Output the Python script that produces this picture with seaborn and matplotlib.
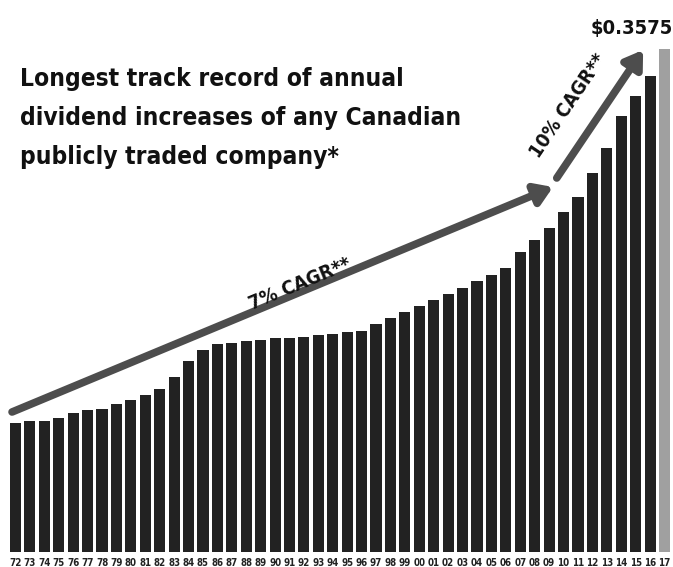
import matplotlib.pyplot as plt
import seaborn as sns

years = ["72", "73", "74", "75", "76", "77", "78", "79", "80", "81", "82", "83",
         "84", "85", "86", "87", "88", "89", "90", "91", "92", "93", "94", "95",
         "96", "97", "98", "99", "00", "01", "02", "03", "04", "05", "06", "07",
         "08", "09", "10", "11", "12", "13", "14", "15", "16", "17"]
dividends = [0.0917, 0.0933, 0.0933, 0.0953, 0.0990, 0.1009, 0.1017, 0.1054,
             0.1081, 0.1118, 0.1159, 0.1244, 0.1360, 0.1436, 0.1478, 0.1486,
             0.1502, 0.1507, 0.1523, 0.1523, 0.1530, 0.1542, 0.1552, 0.1566,
             0.1573, 0.1623, 0.1665, 0.1706, 0.1751, 0.1793, 0.1836, 0.1878,
             0.1928, 0.1971, 0.2021, 0.2134, 0.2220, 0.2305, 0.2419, 0.2523,
             0.2696, 0.2874, 0.3101, 0.3243, 0.3385, 0.3575]
bar_colors = ["#222222"] * (len(years) - 1) + ["#a0a0a0"]
last_label = "$0.3575"

sns.set_style("white")
plt.rcParams["font.family"] = ["DejaVu Sans"]
FONT = dict(family="DejaVu Sans", stretch="condensed", weight="bold")

fig = plt.figure(figsize=(6.73, 5.67), dpi=100)
ax = fig.add_axes([0, 15 / 567, 1, 552 / 567])

sns.barplot(x=years, y=dividends, hue=years, palette=bar_colors, legend=False,
            width=0.77, saturation=1, linewidth=0, edgecolor="none", ax=ax)

ax.set_xlim(-1.075, 45.59)
ax.set_ylim(0, 0.3923)
ax.set_xlabel("")
ax.set_ylabel("")
ax.set_yticks([])
ax.tick_params(axis="x", length=0, pad=4)
for lab in ax.get_xticklabels():
    lab.set_fontsize(7)
    lab.set_fontweight("bold")
    lab.set_fontstretch("condensed")
    lab.set_color("#222222")
sns.despine(ax=ax, left=True, bottom=True)

# CAGR arrows
arrow_kw = dict(arrowstyle="-|>,head_length=1.0,head_width=0.65", color="#4d4d4d",
                lw=5.5, shrinkA=0, shrinkB=0)
ax.annotate("", xy=(37.27, 0.2594), xytext=(-0.24, 0.0995), arrowprops=arrow_kw)
ax.annotate("", xy=(43.52, 0.3568), xytext=(37.53, 0.2658), arrowprops=arrow_kw)
ax.text(19.7, 0.1905, "7% CAGR**", rotation=22.6, ha="center", va="center",
        fontsize=14, color="#111111", **FONT)
ax.text(38.3, 0.3170, "10% CAGR**", rotation=56, ha="center", va="center",
        fontsize=14, color="#111111", **FONT)

# value on last bar
ax.text(42.75, 0.3724, last_label, ha="center", va="center",
        fontsize=14.5, color="#111111", **FONT)

fig.text(20 / 673, 1 - 67 / 567,
         "Longest track record of annual\ndividend increases of any Canadian\npublicly traded company*",
         ha="left", va="top", fontsize=17.6, linespacing=1.8, color="#111111", **FONT)

fig.savefig("out.png", dpi=100)
plt.close(fig)
